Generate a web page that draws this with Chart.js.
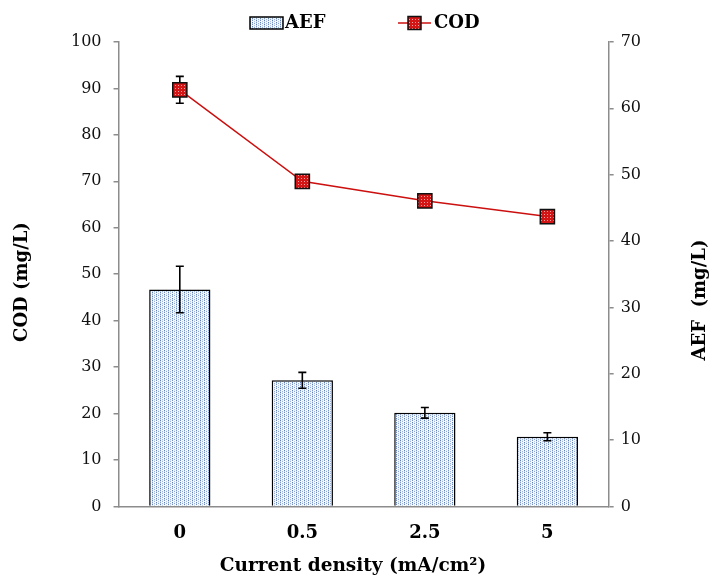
<!DOCTYPE html>
<html>
<head>
<meta charset="utf-8">
<script src="https://cdn.jsdelivr.net/npm/chart.js@4"></script>
<style>
  html, body { margin: 0; padding: 0; background: #fff; }
  #wrap { width: 714px; height: 579px; }
</style>
</head>
<body>
<div id="wrap"><canvas id="grafico"></canvas></div>
<script>
// valores
const categorias = ['0', '0.5', '2.5', '5'];
const aef = [32.7, 19.0, 14.1, 10.5];
const aefErro = [3.5, 1.2, 0.8, 0.6];
const cod = [89.7, 70.0, 65.8, 62.4];
const codErro = [2.9, 0.8, 0.6, 0.6];
const ticksCod = { min: 0, max: 100, passo: 10 };
const ticksAef = { min: 0, max: 70, passo: 10 };

const fonte = 'DejaVu Serif';

// textura pontilhada azul das barras (colunas verticais)
function padraoBarra() {
    const c = document.createElement('canvas');
    c.width = 8; c.height = 4;
    const g = c.getContext('2d');
    g.fillStyle = '#f6f8fc';
    g.fillRect(0, 0, 8, 4);
    const pontos = [
        [0, 0, '#5f82bb'], [0, 2, '#7d9bcb'], [0, 1, '#c9d6ec'], [0, 3, '#c9d6ec'],
        [2, 1, '#9fb5dc'], [2, 3, '#9fb5dc'], [2, 0, '#dfe7f4'],
        [4, 0, '#7290c4'], [4, 2, '#5f82bb'], [4, 3, '#c0cfe8'],
        [6, 1, '#b6c8e6'], [6, 3, '#8ea8d4'], [6, 2, '#e3eaf5']
    ];
    pontos.forEach(function (p) {
        g.fillStyle = p[2];
        g.fillRect(p[0], p[1], 1, 1);
    });
    return g.createPattern(c, 'repeat');
}

// textura vermelha dos marcadores
function padraoMarcador() {
    const c = document.createElement('canvas');
    c.width = 3; c.height = 3;
    const g = c.getContext('2d');
    g.fillStyle = '#d41515';
    g.fillRect(0, 0, 3, 3);
    g.fillStyle = '#f4a0a0';
    g.fillRect(1, 1, 1, 1);
    return g.createPattern(c, 'repeat');
}

const fillBarra = padraoBarra();
const fillMarcador = padraoMarcador();

function desenhaErros(chart, idx, valores, erros, eixo, meia) {
    const meta = chart.getDatasetMeta(idx);
    const esc = chart.scales[eixo];
    const ctx = chart.ctx;
    ctx.save();
    ctx.strokeStyle = '#000';
    ctx.lineWidth = 1.6;
    meta.data.forEach(function (el, i) {
        const x = el.x;
        const y1 = esc.getPixelForValue(valores[i] + erros[i]);
        const y2 = esc.getPixelForValue(valores[i] - erros[i]);
        ctx.beginPath();
        ctx.moveTo(x, y1); ctx.lineTo(x, y2);
        ctx.moveTo(x - meia, y1); ctx.lineTo(x + meia, y1);
        ctx.moveTo(x - meia, y2); ctx.lineTo(x + meia, y2);
        ctx.stroke();
    });
    ctx.restore();
}

const barrasErro = {
    id: 'barrasErro',
    beforeDatasetDraw(chart, args) {
        if (args.index === 1) desenhaErros(chart, 1, cod, codErro, 'yCod', 4);
    },
    afterDatasetDraw(chart, args) {
        if (args.index === 0) desenhaErros(chart, 0, aef, aefErro, 'yAef', 4);
    }
};

// legenda e títulos dos eixos (o da direita lê de baixo para cima)
const titulos = {
    id: 'titulos',
    afterDraw(chart) {
        const ctx = chart.ctx;
        const ds = chart.data.datasets;
        ctx.save();
        ctx.fillStyle = '#000';
        ctx.font = 'bold 18px "' + fonte + '"';
        ctx.textBaseline = 'middle';

        // legenda
        const yl = 23;
        ctx.fillStyle = fillBarra;
        ctx.fillRect(250, yl - 6, 33, 12);
        ctx.strokeStyle = '#000';
        ctx.lineWidth = 1.5;
        ctx.strokeRect(250, yl - 6, 33, 12);
        ctx.fillStyle = '#000';
        ctx.textAlign = 'left';
        ctx.fillText(ds[0].label, 285, yl);

        ctx.strokeStyle = '#cc1010';
        ctx.beginPath(); ctx.moveTo(398, yl); ctx.lineTo(431, yl); ctx.stroke();
        ctx.fillStyle = fillMarcador;
        ctx.fillRect(408, yl - 6.5, 13, 13);
        ctx.strokeStyle = '#111';
        ctx.strokeRect(408, yl - 6.5, 13, 13);
        ctx.fillStyle = '#000';
        ctx.fillText(ds[1].label, 434, yl);

        ctx.textAlign = 'center';
        ctx.save();
        ctx.translate(22, 282);
        ctx.rotate(-Math.PI / 2);
        ctx.fillText('COD (mg/L)', 0, 0);
        ctx.restore();

        ctx.save();
        ctx.translate(chart.width - 14, 300);
        ctx.rotate(-Math.PI / 2);
        ctx.fillText('AEF  (mg/L)', 0, 0);
        ctx.restore();

        ctx.font = 'bold 18.5px "' + fonte + '"';
        ctx.fillText('Current density (mA/cm\u00B2)', 353, 566);
        ctx.restore();
    }
};

const eixoY = function (lim, pos) {
    return {
        type: 'linear',
        position: pos,
        min: lim.min,
        max: lim.max,
        ticks: {
            stepSize: lim.passo,
            color: '#111',
            padding: pos === 'left' ? 12 : 7,
            font: { family: fonte, size: 16 }
        },
        grid: { drawOnChartArea: false, drawTicks: true, tickLength: 5, color: '#8c8c8c', lineWidth: 1.5 },
        border: { color: '#8c8c8c', width: 1.5 }
    };
};

new Chart(document.getElementById('grafico'), {
    data: {
        labels: categorias,
        datasets: [{
            type: 'bar',
            label: 'AEF',
            data: aef,
            yAxisID: 'yAef',
            backgroundColor: fillBarra,
            borderColor: '#000',
            borderWidth: 1.5,
            barPercentage: 0.5,
            categoryPercentage: 1,
            order: 1
        }, {
            type: 'line',
            label: 'COD',
            data: cod,
            yAxisID: 'yCod',
            borderColor: '#cc1010',
            borderWidth: 1.5,
            pointStyle: 'rect',
            pointRadius: 10,
            pointBackgroundColor: fillMarcador,
            pointBorderColor: '#111',
            pointBorderWidth: 1.5,
            tension: 0,
            order: 0
        }]
    },
    options: {
        responsive: true,
        maintainAspectRatio: false,
        animation: false,
        layout: { padding: { left: 59, right: 66, top: 42, bottom: 19 } },
        plugins: {
            legend: { display: false },
            tooltip: { enabled: false }
        },
        scales: {
            x: {
                ticks: {
                    color: '#000',
                    padding: 16,
                    font: { family: fonte, size: 18, weight: 'bold' }
                },
                grid: { drawOnChartArea: false, drawTicks: false },
                border: { color: '#8c8c8c', width: 1.5 }
            },
            yCod: eixoY(ticksCod, 'left'),
            yAef: eixoY(ticksAef, 'right')
        }
    },
    plugins: [barrasErro, titulos]
});
</script>
</body>
</html>
